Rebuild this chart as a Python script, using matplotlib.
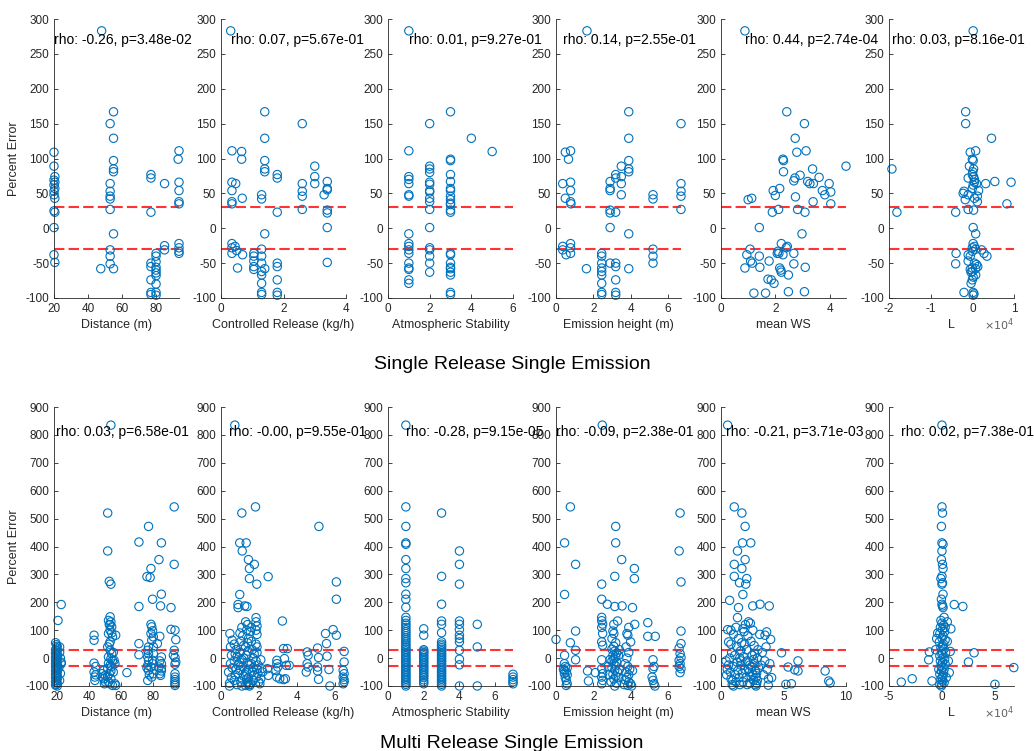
import numpy as np
import matplotlib.pyplot as plt
from matplotlib.ticker import FuncFormatter

plt.rcParams['font.family'] = ['Liberation Sans', 'DejaVu Sans']
plt.rcParams['axes.unicode_minus'] = False

BLUE = '#0072BD'
GREY = '#262626'

# ---------------- Single Release Single Emission ----------------
dist_top_x = [48, 20, 20, 20.5, 20, 20.5, 20, 20.5, 20, 20, 20.5, 20, 20.5, 20, 20, 20.5, 47.5,
              55, 53, 55, 55, 55, 55, 53, 53, 53, 53, 53, 55, 53, 53, 53, 55,
              77, 77, 77, 77, 77, 77, 77, 77,
              80, 80, 80, 80, 80, 80, 80, 80, 80, 80,
              85, 85, 85,
              93.5, 93, 93.5, 93.5, 93.5, 93.5, 93.5, 93.5, 93.5, 93.5]
dist_top_y = [283, 109, 89, 74, 69, 66, 62, 57, 53, 48, 43, 25, 23, 1, -38, -49, -58,
              167, 150, 129, 97, 85, 81, 64, 53, 46, 42, 27, -8, -31, -40, -51, -58,
              77, 72, 23, -50, -55, -74, -92, -95,
              -36, -40, -48, -56, -60, -64, -68, -80, -92, -96,
              64, -25, -31,
              111, 99, 66, 54, 38, 35, -22, -28, -33, -36]

rel_top_x = [0.31, 0.35, 0.35, 0.35, 0.35, 0.35, 0.35, 0.35, 0.35, 0.47, 0.45, 0.5, 0.53,
             0.66, 0.66, 0.68, 0.69, 1.05, 1.05, 1.05, 1.05, 1.05,
             1.3, 1.3, 1.3, 1.3, 1.3, 1.3, 1.3, 1.3, 1.3, 1.3,
             1.4, 1.4, 1.4, 1.4, 1.4, 1.4, 1.4,
             1.8, 1.8, 1.8, 1.8, 1.8, 1.8, 1.8, 1.8,
             2.6, 2.6, 2.6, 2.6, 2.6, 3.0, 3.0, 3.0, 3.3,
             3.4, 3.4, 3.4, 3.4, 3.4, 3.4, 3.4]
rel_top_y = [283, 111, 66, 54, 38, 35, -22, -28, -36, 64, -26, -32, -57,
             110, 99, 43, -38, -36, -40, -47, -55, -59,
             48, 42, -30, -40, -50, -62, -67, -79, -92, -95,
             167, 129, 97, 85, 81, -8, -58,
             77, 72, 23, -50, -55, -74, -92, -96,
             150, 64, 53, 46, 27, 89, 74, 64, 48,
             67, 57, 55, 26, 22, 1, -49]

stab_top_classes = [1, 2, 3, 4, 5]
stab_top_err = [
    [283, 111, 74, 70, 64, 48, 46, -8, -22, -26, -31, -36, -50, -57, -59, -74, -79],
    [150, 89, 85, 80, 66, 63, 54, 52, 43, 38, 27, 1, -28, -31, -40, -50, -63],
    [167, 99, 97, 77, 67, 57, 54, 46, 41, 36, 34, 26, 23, -36, -38, -50, -56, -58,
     -63, -67, -92, -95],
    [129],
    [110],
]

hgt_top_x = [1.66, 0.36, 0.5, 0.5, 0.67, 0.78, 0.78, 0.78, 0.78, 0.8, 0.36, 0.36, 0.54,
             0.78, 0.78, 0.78, 1.63,
             2.45, 2.45, 2.45, 2.45, 2.45, 2.45, 2.45, 2.45, 2.45,
             2.9, 2.9, 2.9, 2.9, 2.9, 2.9, 2.9,
             3.2, 3.2, 3.2, 3.2, 3.2, 3.2, 3.2, 3.2,
             3.5, 3.5, 3.5, 3.5,
             3.9, 3.9, 3.9, 3.9, 3.9, 3.9, 3.9,
             5.2, 5.2, 5.2, 5.2, 5.2,
             6.7, 6.7, 6.7, 6.7, 6.7]
hgt_top_y = [283, 64, 43, 109, 99, 111, 66, 54, 38, 35, -26, -31, -38,
             -22, -28, -36, -58,
             -36, -40, -50, -57, -62, -67, -79, -92, -95,
             67, 57, 54, 26, 22, 1, -50,
             77, 72, 23, -50, -55, -74, -92, -96,
             89, 74, 64, 48,
             167, 129, 97, 85, 81, -8, -58,
             48, 42, -30, -40, -50,
             150, 64, 53, 46, 27]

ws_top_x = [0.88, 2.42, 3.07, 2.73, 2.79, 3.13, 2.28, 2.3, 2.3, 3.37, 4.6, 2.91, 3.61,
            2.72, 2.68, 3.19, 3.27, 3.4, 3.98, 3.73, 3.82, 4.04, 4.04, 2.16, 1.92, 2.0,
            1.0, 1.13, 2.74, 3.39, 2.12, 2.82, 1.89, 3.09, 1.41, 2.98, 2.22, 1.07, 2.44,
            2.4, 2.1, 2.13, 2.28, 2.07, 2.68, 0.95, 1.41, 1.09, 1.15, 1.77, 2.68, 0.88,
            1.43, 2.16, 2.2, 2.22, 3.1, 2.48, 1.73, 1.85, 1.95, 1.21, 1.64, 2.48, 3.07]
ws_top_y = [283, 167, 150, 129, 109, 111, 99, 97, 81, 85, 89, 76, 73,
            72, 68, 67, 64, 64, 64, 54, 48, 52, 35, 57, 54, 47,
            41, 43, 45, 38, 27, 27, 23, 23, 1, -8, -22, -30, -26,
            -28, -33, -36, -38, -36, -36, -38, -40, -47, -50, -47, -51, -57,
            -56, -57, -60, -63, -56, -67, -73, -74, -79, -93, -93, -91, -91]

L_top_x = np.array([0.02, -0.16, -0.16, 0.46, -1.93, -1.81, -0.4, -0.39, -0.4, 0.93, 0.54,
                    0.32, 0.83,
                    0.08, -0.05, 0.0, 0.02, -0.07, 0.03, 0.01, 0.0, 0.03, -0.1, 0.05, 0.1,
                    0.05, 0.02, 0.0, 0.15, -0.2, -0.22, -0.1, 0.12, 0.05, -0.17, 0.12, -0.1,
                    0.03, 0.02, 0.08, 0.02, 0.05, 0.0, 0.08, 0.22, 0.0, 0.28, -0.1, 0.35,
                    -0.05, -0.1, 0.05, 0.1, 0.13, 0.0, 0.08, -0.05, 0.0, -0.03, 0.08, 0.02,
                    0.0, -0.03, -0.2, 0.02, 0.04, 0.02]) * 1e4
L_top_y = [283, 167, 150, 129, 85, 23, 23, -36, -51, 66, 67,
           64, 35,
           111, 109, 99, 97, 89, 85, 81, 77, 74, 72, 70, 64,
           66, 62, 57, 54, 53, 50, 48, 46, 43, 41, 38, 27,
           26, 1, -8, -22, -26, -28, -30, -31, -33, -36, -38, -40,
           -40, -47, -50, -52, -55, -57, -58, -59, -62, -63, -67, -70,
           -74, -79, -92, -92, -94, -96]

# ---------------- Multi Release Single Emission ----------------
dist_bot_x = [53.5,
              19, 19.5, 20, 19.5, 19, 20, 19.5, 19, 20, 19.5, 19, 20, 19.5, 19, 20, 19.5, 19, 20,
              19.5, 19, 20, 19.5, 19, 20, 19.5, 19, 20, 19.5, 19, 20, 19.5, 19, 20, 19.5, 19, 20,
              20.5, 22.5, 21.5, 21.5, 22, 22.5, 22, 21.5, 21, 22.5,
              43, 43, 43, 43, 43.5, 43.5, 44, 44,
              48, 49, 49.5, 50, 48.5, 50, 49,
              51.5, 51.5, 52.5, 53.5, 53, 52, 53.5, 52.5, 54, 53, 52, 54.5, 53, 52.5, 51.5, 53,
              54, 52, 53.5, 54.5, 52, 53, 51.5, 53.5, 52.5, 51.5, 53.5, 52, 53, 54.5, 53, 54,
              55, 54, 55,
              56.5, 55.5, 56, 56.5, 56, 63.5,
              71, 71, 71, 71,
              77, 76, 77, 76.5, 77, 76.5, 77, 76.5, 77, 76.5, 77.5, 76,
              78.5, 78, 79.5, 78.5, 79, 79.5, 78.5, 80, 79, 80, 79.5, 78.5, 80, 79, 80, 79.5,
              83.5, 84, 82.5, 84, 83.5, 84, 84.5, 85, 85, 84.5, 85, 85, 85, 85,
              91, 91,
              93, 93, 93.5, 94, 93, 93.5, 94, 93.5, 93.5, 93.5, 93.5, 93.5, 93.5, 93.5, 92.5]
dist_bot_y = [835,
              55, 48, 42, 36, 30, 26, 22, 18, 12, 8, 4, 0, -4, -8, -12, -16, -20, -24,
              -28, -32, -36, -40, -45, -50, -54, -58, -62, -66, -70, -75, -80, -85, -90, -94, -97, -100,
              135, 192, 40, 20, 0, -20, -55, -80, -35, -15,
              82, 64, -18, -50, -68, -80, -30, -60,
              -56, -74, -92, -85, -68, -62, -45,
              520, 384, 275, 265, 148, 135, 130, 120, 112, 100, 88, 76, 58, 50, 40, 28,
              16, 4, -2, -8, -18, -26, -38, -46, -56, -65, -74, -85, -92, -98, 120, 90,
              20, -30, -50,
              82, -8, -20, -98, -92, -52,
              416, 185, 52, 12,
              472, 292, 40, 28, 16, 4, -8, -26, -44, -80, -60, -35,
              321, 289, 211, 121, 112, 98, 88, 76, 64, 16, -8, -32, -56, -68, 40, -20,
              353, 78, 52, -10, -32, -56, -62, 413, 229, 187, 4, -38, -46, -20,
              181, 103,
              542, 336, 100, 66, 28, 2, -14, -22, -56, -68, -77, -85, -92, -98, 10]

rel_bot_x = [0.73, 1.1, 1.82, 0.99, 1.33, 1.12, 1.45, 1.5, 1.76, 1.5, 1.89, 2.49, 0.99, 0.9,
             0.9, 1.25, 1.37, 0.47, 0.59, 3.24, 5.17, 6.09, 6.09, 5.52, 5.92, 6.09, 5.57,
             0.45, 0.45, 0.4, 0.5, 0.55, 0.6, 0.5, 0.55,
             0.7, 0.75, 0.8, 0.7, 0.75, 0.8, 0.85, 0.9, 0.7, 0.9, 0.85,
             1.0, 1.05, 1.1, 1.0, 1.1, 1.15, 1.0, 1.2, 1.05, 1.1, 1.2, 1.15, 1.2, 1.0,
             1.3, 1.35, 1.4, 1.45, 1.3, 1.35, 1.4, 1.45, 1.3, 1.35, 1.4, 1.45, 1.5, 1.38,
             1.42, 1.48, 1.33, 1.4, 1.3, 1.45,
             1.55, 1.6, 1.65, 1.7, 1.6, 1.65, 1.7, 1.55, 1.75, 1.6, 1.7, 1.75,
             1.85, 1.85, 1.9, 1.85, 1.9, 1.85, 1.9, 1.85, 1.9, 1.95, 1.85, 2.0, 1.9, 1.95,
             2.1, 2.15, 2.1, 2.05, 2.45, 2.5, 2.2,
             2.95, 2.95, 3.0, 2.9, 2.95, 3.1,
             3.3, 3.35, 3.45, 3.4, 3.3, 3.6, 3.5,
             4.55, 4.6, 4.55, 4.6, 4.5,
             5.1, 5.15, 5.1, 5.1, 5.15, 5.6, 5.7, 5.75,
             6.5, 6.5, 6.45, 6.5, 6.45, 6.5, 6.5, 6.45]
rel_bot_y = [835, 520, 542, 413, 413, 384, 353, 321, 336, 285, 265, 292, 228, 192,
             181, 187, 185, 88, 64, 133, 472, 273, 211, 88, 102, 82, 52,
             -90, -100, -50, -20, 10, -35, 40, -70,
             -80, -60, -40, -10, 15, 30, 5, -25, 50, -55, -95,
             90, 60, 110, 20, -5, -30, -45, -65, -85, -100, 45, 80, 0, -15,
             130, 100, 120, 70, 40, 10, -15, -40, -60, -75, -85, -95, -100, -90,
             25, -25, -50, 55, -98, -70,
             95, 60, 30, 0, -20, -50, -80, -95, -60, 110, -35, 15,
             145, 130, 115, 100, 85, 50, 40, -10, -40, -55, -70, -85, 20, -25,
             -6, -38, -74, -92, -38, -62, -50,
             -8, -20, -32, -44, -68, -74,
             34, -2, -26, -74, -77, -26, 34,
             22, 10, -20, -32, -50,
             36, 2, -32, -46, -76, 7, -41, -100,
             24, -14, -44, -56, -68, -77, -85, -92]

stab_bot_classes = [1, 2, 3, 4, 5, 7]
stab_bot_err = [
    [835, 542, 472, 413, 408, 353, 321, 285, 270, 229, 211, 182, 146, 135, 125, 118, 110,
     102, 95, 88, 80, 72, 65, 58, 50, 44, 38, 32, 26, 20, 14, 8, 2, -4, -10, -16, -22,
     -28, -34, -40, -46, -52, -58, -64, -70, -76, -82, -88, -94, -100],
    [105, 82, 30, 25, 20, 14, 8, 2, -4, -10, -16, -22, -28, -34, -40, -46, -52, -58, -64,
     -70, -78, -85, -92],
    [520, 293, 193, 133, 121, 91, 58, 50, 44, 38, 32, 26, 20, 14, 8, 2, -4, -10, -16, -22,
     -28, -34, -40, -46, -52, -58, -64, -70, -76, -82, -88, -94, -100],
    [384, 336, 265, 133, 121, 102, 82, 70, 58, 28, -4, -24, -100],
    [121, 40, -100],
    [-58, -68, -77, -85, -92],
]

hgt_bot_x = [2.48, 0.77, 0.46, 0.46, 1.05, 1.05, 0.0, 0.77, 1.05, 1.05, 0.46,
             0.45, 0.5, 0.4, 0.55, 0.45, 0.6, 0.5, 0.55, 0.6, 0.55, 0.45, 0.6,
             1.69, 1.74, 2.11,
             2.45, 2.45, 2.45, 2.45, 2.5, 2.45, 2.5, 2.45, 2.5, 2.45, 2.45, 2.5, 2.45, 2.5, 2.45,
             2.75,
             3.2, 3.2, 3.15, 3.15, 3.3, 3.1, 3.05, 3.1, 3.0, 3.2, 3.1, 3.0, 3.15, 3.25, 3.05,
             3.2, 3.1, 3.0, 3.25, 3.1, 3.2, 3.0, 3.15, 3.3, 3.05, 3.2, 3.1, 2.95, 3.25, 3.15,
             2.8, 2.85, 2.9, 3.35, 3.4, 3.35, 3.4,
             3.52, 3.54,
             4.2, 4.2, 4.1, 3.9, 3.8, 3.85, 4.0, 3.75, 3.9, 3.8, 3.7, 3.85, 3.95, 3.75, 3.9,
             3.8, 3.7, 3.9, 4.0, 3.85, 4.05, 3.65, 4.1,
             4.22, 4.92, 4.92, 5.32,
             5.2, 5.25, 5.2, 5.15, 5.2, 5.25, 5.3,
             6.65, 6.6, 6.7, 6.7, 6.7, 6.6, 6.65, 6.7, 6.6, 6.65, 6.6, 6.7, 6.65]
hgt_bot_y = [835, 542, 413, 228, 336, 97, 67, 55, 28, -6, 10,
             -20, -30, -40, -50, -55, -60, -70, -80, -92, -98, -45, -35,
             -46, -82, -52,
             265, 211, 146, 134, 122, 110, 88, 58, 46, -6, -38, -56, -68, -80, -92,
             193,
             472, 413, 293, 185, 133, 121, 97, 88, 70, 55, 42, 32, 25, 18, 10,
             4, -2, -10, -15, -20, -28, -35, -42, -50, -58, -65, -75, -85, -90, -100,
             -30, -60, -5, -70, -40, 10, 30,
             353, 187,
             321, 285, 181, 110, 88, 82, 58, 40, 20, 0, -20, -30, -40, -50, -60,
             -70, -78, -85, -92, -98, -100, -95, -45,
             121, 127, 78, 78,
             -6, -30, -38, -68, -80, -92, -100,
             520, 384, 273, 97, 52, 36, 16, 2, -8, -20, -30, -38, -52]

ws_bot_x = [0.53, 1.06, 1.67, 1.93, 1.72, 2.38, 1.32, 1.93, 1.06, 1.67, 2.06, 1.48, 1.98,
            1.06, 1.75, 0.69, 1.4, 2.54, 3.12, 3.86, 1.32, 0.53, 0.79, 0.99, 0.61, 0.79,
            3.65, 3.97, 3.52, 4.84, 5.37, 6.16, 5.9, 6.16, 5.19, 5.63, 8.33, 8.62, 8.73,
            3.78, 4.05,
            0.4, 0.5, 0.45, 0.6, 0.7, 0.75, 0.8, 0.9, 1.0, 0.95, 0.85, 1.0, 1.1, 1.15, 1.2,
            1.25, 1.3, 1.35, 1.4, 1.45, 1.5, 1.55, 1.6, 1.65, 1.7, 1.75, 1.8, 1.85, 1.9, 1.95,
            2.0, 2.05, 2.1, 2.15, 2.2, 2.25, 2.3, 2.35, 2.4, 2.45, 2.5, 2.55, 2.6, 2.65, 2.7,
            2.75, 2.8, 2.85, 2.8, 2.75, 2.85, 2.9, 2.95, 3.0, 3.1, 3.2, 3.3, 3.4, 3.5, 3.6,
            3.7, 3.8, 3.9, 1.2, 1.75, 2.55, 2.1, 1.9, 2.6, 2.3, 1.6, 2.7, 2.4, 2.0, 1.5, 2.9,
            2.2]
ws_bot_y = [835, 542, 520, 472, 413, 413, 384, 353, 336, 321, 285, 270, 265,
            293, 228, 207, 181, 187, 193, 187, 145, 102, 100, 86, 58, 50,
            94, 67, 82, 19, -32, -10, -42, -46, -94, -92, -46, -82, -89,
            -97, -70,
            -10, -40, -60, -25, 0, -50, -75, -95, -100, -80, 20, -30, 10, -60, -85,
            40, -15, -45, 70, -70, -95, 25, -25, 55, -55, -85, 5, 95, -40, 120,
            -70, 30, -10, 80, 130, -50, -90, 125, 60, -30, 10, -60, -80, 45, -20,
            -45, -70, -90, -100, -95, -55, 0, 30, -35, 85, -25, 20, -60, -10, 40,
            -40, -75, -20, 110, 105, 100, -95, 50, -5, -25, -10, 15, -65, -15, 0, -80,
            -40]

L_bot_x = np.array([0.0, -3.84, -2.81, -1.19, -1.25, -0.94, 1.16, 1.97, 0.84, 3.03, 2.5,
                    6.78, 5.0, 0.69, 0.78,
                    0.0, 0.05, -0.05, 0.0, 0.1, 0.0, -0.05, 0.05, 0.1, 0.0, -0.1, 0.05, 0.0,
                    0.1, -0.05, 0.0, 0.05, 0.1, 0.2, -0.1, 0.0, 0.15, -0.15, 0.05, 0.25,
                    -0.2, 0.1, 0.0, 0.3, -0.25, 0.15, 0.05, -0.1, 0.2, -0.05, 0.35, 0.0,
                    -0.2, 0.1, 0.25, -0.15, 0.05, 0.3, -0.1, 0.0, 0.2, -0.05, 0.15, -0.2,
                    0.1, 0.0, -0.1, 0.05, 0.2, 0.0, -0.05,
                    -0.4, -0.5, 0.5, 0.6, -0.3, 0.4, -0.2, 0.3, 0.5, -0.6]) * 1e4
L_bot_y = [835, -86, -74, 22, -6, -82, 192, 185, 105, 19, -14,
           -34, -94, -52, 24,
           542, 520, 472, 413, 408, 384, 353, 336, 321, 293, 285, 270, 265,
           229, 211, 193, 187, 181, 146, 135, 125, 118, 110, 102, 95,
           88, 80, 72, 65, 58, 50, 44, 38, 32, 26, 20, 14,
           8, 2, -4, -10, -16, -22, -28, -34, -40, -46, -52, -58,
           -64, -70, -76, -82, -88, -94, -100,
           90, 70, 60, -10, -40, -70, -95, 110, 130, 30]

top_rho = ['rho: -0.26, p=3.48e-02', 'rho: 0.07, p=5.67e-01', 'rho: 0.01, p=9.27e-01',
           'rho: 0.14, p=2.55e-01', 'rho: 0.44, p=2.74e-04', 'rho: 0.03, p=8.16e-01']
bot_rho = ['rho: 0.03, p=6.58e-01', 'rho: -0.00, p=9.55e-01', 'rho: -0.28, p=9.15e-05',
           'rho: -0.09, p=2.38e-01', 'rho: -0.21, p=3.71e-03', 'rho: 0.02, p=7.38e-01']
xlabels = ['Distance (m)', 'Controlled Release (kg/h)', 'Atmospheric Stability',
           'Emission height (m)', 'mean WS', 'L']


def classes_to_xy(classes, groups):
    xs, ys = [], []
    for c, g in zip(classes, groups):
        xs += [c] * len(g)
        ys += g
    return xs, ys


stab_top_x, stab_top_y = classes_to_xy(stab_top_classes, stab_top_err)
stab_bot_x, stab_bot_y = classes_to_xy(stab_bot_classes, stab_bot_err)

top_data = [(dist_top_x, dist_top_y), (rel_top_x, rel_top_y), (stab_top_x, stab_top_y),
            (hgt_top_x, hgt_top_y), (ws_top_x, ws_top_y), (L_top_x, L_top_y)]
bot_data = [(dist_bot_x, dist_bot_y), (rel_bot_x, rel_bot_y), (stab_bot_x, stab_bot_y),
            (hgt_bot_x, hgt_bot_y), (ws_bot_x, ws_bot_y), (L_bot_x, L_bot_y)]

top_xlim = [(20, 93.5), (0, 4), (0, 6), (0, 6.7), (0, 4.6), (-2e4, 1e4)]
top_xticks = [[20, 40, 60, 80], [0, 2, 4], [0, 2, 4, 6], [0, 2, 4, 6], [0, 2, 4],
              [-2e4, -1e4, 0, 1e4]]
bot_xlim = [(18, 96), (0, 6.6), (0, 7), (0, 6.7), (0, 10), (-5e4, 6.8e4)]
bot_xticks = [[20, 40, 60, 80], [0, 2, 4, 6], [0, 2, 4, 6], [0, 2, 4, 6], [0, 5, 10],
              [-5e4, 0, 5e4]]

fig = plt.figure(figsize=(10.34, 7.51), dpi=100)
lefts = [54, 221, 388, 556, 721, 889]
W, H = 1034, 751


def draw_row(data, rho, xlims, xticks, ylim, yticks, top_px, bottom_px):
    for i in range(6):
        ax = fig.add_axes([lefts[i] / W, 1 - bottom_px / H, 125 / W, (bottom_px - top_px) / H])
        x, y = data[i]
        ax.axhline(30, color='red', ls=(0, (5, 2)), lw=1.5, alpha=0.8, zorder=1)
        ax.axhline(-30, color='red', ls=(0, (5, 2)), lw=1.5, alpha=0.8, zorder=1)
        ax.scatter(x, y, s=36, facecolors='none', edgecolors=BLUE, linewidths=0.8,
                   zorder=2, clip_on=False)
        ax.set_xlim(*xlims[i])
        ax.set_ylim(*ylim)
        ax.set_xticks(xticks[i])
        ax.set_yticks(yticks)
        for s in ['top', 'right']:
            ax.spines[s].set_visible(False)
        for s in ['left', 'bottom']:
            ax.spines[s].set_color(GREY)
            ax.spines[s].set_linewidth(0.6)
        ax.tick_params(direction='in', length=3, width=0.6, colors=GREY, labelsize=8.5, pad=3.5)
        ax.set_xlabel(xlabels[i], fontsize=9, color=GREY, labelpad=3)
        if i == 0:
            ax.set_ylabel('Percent Error', fontsize=9, color=GREY)
        if i == 5:
            # L axis in units of 1e4, with the exponent shown at the axis end
            ax.xaxis.set_major_formatter(FuncFormatter(lambda v, p: '%g' % (v / 1e4)))
            ax.text(1.0, -0.095, r'$\times10^{4}$', transform=ax.transAxes, ha='right',
                    va='center', fontsize=8, color='#606060')
        ax.text(np.min(x), 0.9 * ylim[1], rho[i], fontsize=10, color='black',
                ha='left', va='center', clip_on=False, zorder=5)


draw_row(top_data, top_rho, top_xlim, top_xticks, (-100, 300),
         list(range(-100, 301, 50)), 19, 298)
draw_row(bot_data, bot_rho, bot_xlim, bot_xticks, (-100, 900),
         list(range(-100, 901, 100)), 407, 686)

fig.text(0.495, 1 - 365 / H, 'Single Release Single Emission', fontsize=14,
         ha='center', va='center', color='black')
fig.text(0.495, 1 - 743 / H, 'Multi Release Single Emission', fontsize=14,
         ha='center', va='center', color='black')

fig.savefig('out.png', dpi=100)
